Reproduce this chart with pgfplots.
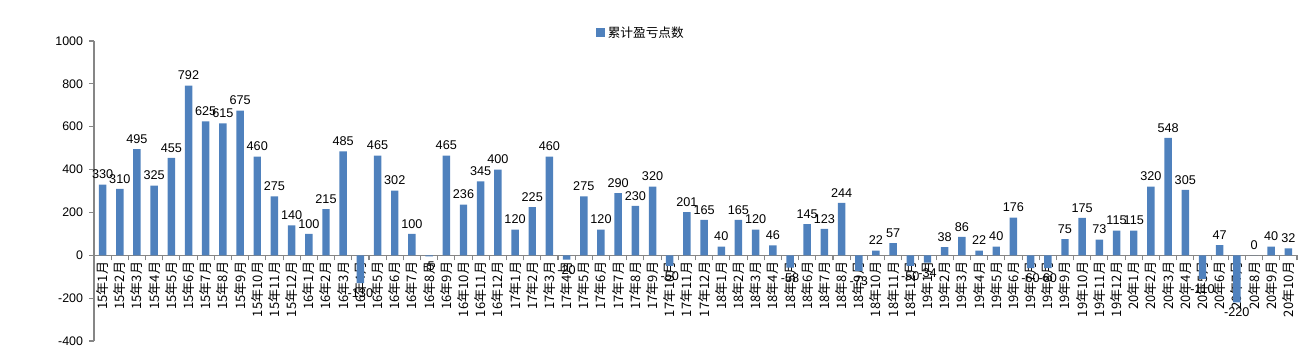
\documentclass[border=0pt]{standalone}
\usepackage{fontspec}
\setmainfont{Liberation Sans}
\newfontfamily\cjk{Noto Sans CJK SC}
\usepackage{pgfplots}
\pgfplotsset{compat=1.18}
\definecolor{barblue}{HTML}{4F81BD}
\definecolor{axgray}{HTML}{868686}
\begin{document}
\begin{tikzpicture}[x=1pt,y=1pt]
\path[use as bounding box] (0,0) rectangle (978,264);
\begin{axis}[
  at={(70.5pt,8.25pt)}, anchor=south west,
  scale only axis, width=902.25pt, height=225pt,
  ymin=-400, ymax=1000, xmin=-0.5, xmax=69.5,
  ytick={-400,-200,...,1000},
  axis y line=left, axis x line=middle,
  axis line style={-, draw=axgray, line width=0.8pt},
  hide obscured x ticks=false, hide obscured y ticks=false,
  tick align=outside,
  major tick length=3.75pt, minor tick length=3.75pt,
  tick style={draw=axgray, line width=0.8pt},
  xtick={0,...,69},
  major x tick style={draw=none},
  minor xtick={-0.5,0.5,...,69.5},
  /pgf/number format/assume math mode=true,
  /pgf/number format/1000 sep={},
  yticklabel style={font=\fontsize{9.3}{10}\selectfont, xshift=-1pt},
  xticklabel style={font=\cjk\fontsize{9.8}{10}\selectfont, rotate=90, anchor=east, inner sep=1pt, yshift=0pt},
  xticklabels={15年1月,15年2月,15年3月,15年4月,15年5月,15年6月,15年7月,15年8月,15年9月,15年10月,15年11月,15年12月,
16年1月,16年2月,16年3月,16年4月,16年5月,16年6月,16年7月,16年8月,16年9月,16年10月,16年11月,16年12月,
17年1月,17年2月,17年3月,17年4月,17年5月,17年6月,17年7月,17年8月,17年9月,17年10月,17年11月,17年12月,
18年1月,18年2月,18年3月,18年4月,18年5月,18年6月,18年7月,18年8月,18年9月,18年10月,18年11月,18年12月,
19年1月,19年2月,19年3月,19年4月,19年5月,19年6月,19年7月,19年8月,19年9月,19年10月,19年11月,19年12月,
20年1月,20年2月,20年3月,20年4月,20年5月,20年6月,20年7月,20年8月,20年9月,20年10月},
  ybar, bar width=5.6pt,
  nodes near coords,
  every node near coord/.append style={font=\fontsize{9.5}{10}\selectfont, black, inner sep=4pt},
  legend style={at={(0.455,1.027)}, anchor=center, draw=none, fill=none, font=\cjk\fontsize{9.5}{10}\selectfont},
  legend image code/.code={\fill[barblue] (0pt,-3.3pt) rectangle (6.6pt,3.3pt);},
  clip=false,
]
\addplot[fill=barblue, draw=none] table[x=x, y=y] {
x y
0 330
1 310
2 495
3 325
4 455
5 792
6 625
7 615
8 675
9 460
10 275
11 140
12 100
13 215
14 485
15 -130
16 465
17 302
18 100
19 -5
20 465
21 236
22 345
23 400
24 120
25 225
26 460
27 -20
28 275
29 120
30 290
31 230
32 320
33 -50
34 201
35 165
36 40
37 165
38 120
39 46
40 -58
41 145
42 123
43 244
44 -73
45 22
46 57
47 -50
48 -34
49 38
50 86
51 22
52 40
53 176
54 -60
55 -60
56 75
57 175
58 73
59 115
60 115
61 320
62 548
63 305
64 -110
65 47
66 -220
67 0
68 40
69 32
};
\addlegendentry{累计盈亏点数}
\end{axis}
\end{tikzpicture}
\end{document}
